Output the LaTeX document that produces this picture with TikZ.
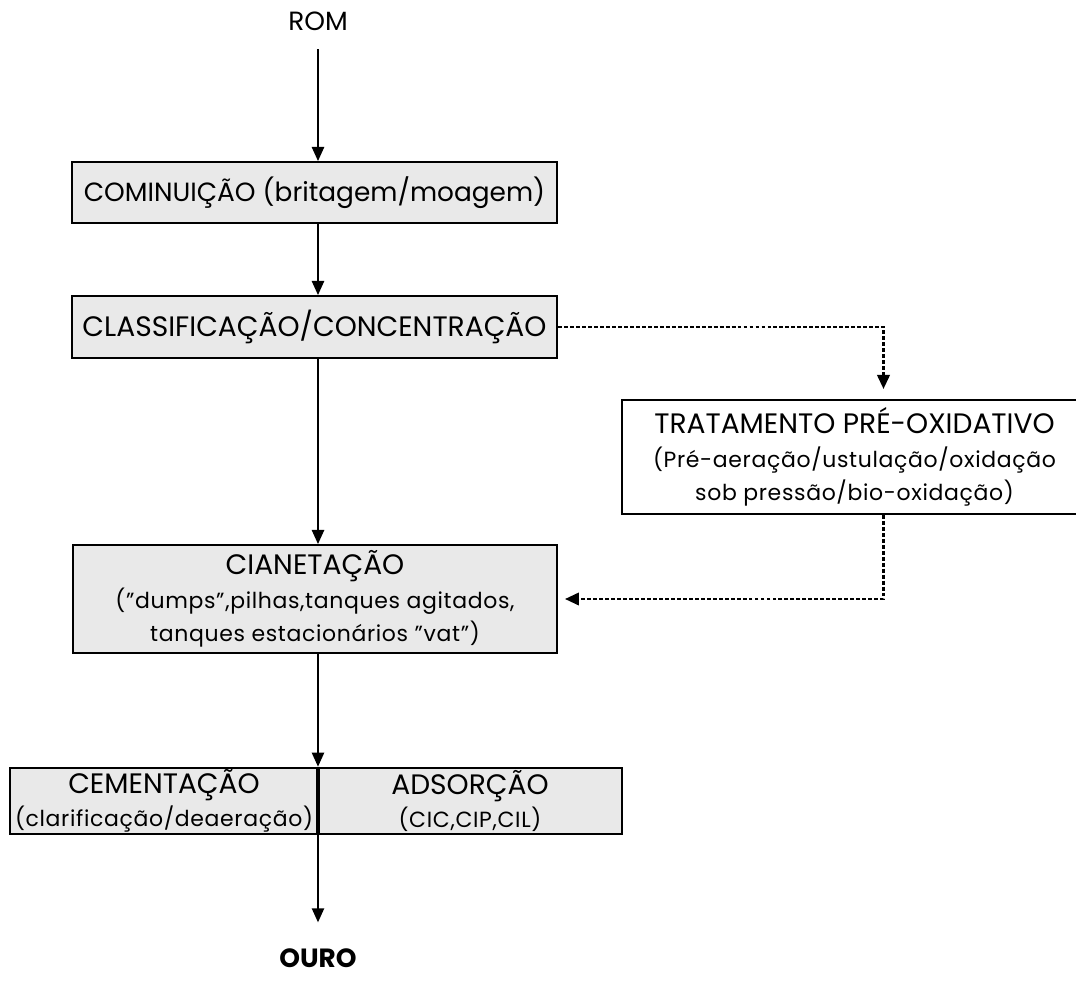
\documentclass[tikz,border=0pt]{standalone}
\usepackage{fontspec}
\setmainfont{Poppins}
\usetikzlibrary{arrows.meta}
\tikzset{
    box/.style={draw, line width=1.1pt, align=center, inner sep=1pt,
        font=\fontsize{16}{19}\selectfont},
    stage/.style={box, fill=gray!17},
    pretreat/.style={box, fill=white},
    endpoint/.style={font=\fontsize{15}{18}\selectfont},
    link/.style={-{Triangle[length=8pt,width=7pt]}, line width=0.9pt},
    bypass/.style={link, dash pattern=on 2.2pt off 1.2pt, line width=1.6pt}
}
\newcommand{\subsize}{\fontsize{12.5}{17}\selectfont\addfontfeature{LetterSpace=3}}

\begin{document}
\begin{tikzpicture}[x=0.02cm, y=-0.02cm]
    \useasboundingbox (0,0) rectangle (1076,994);
    \node[endpoint] (rom) at (318,21) {ROM};
    \node[stage, minimum width=9.72cm, minimum height=1.22cm, font=\fontsize{15}{18}\selectfont] (cominuicao) at (314.5,192.5) {COMINUIÇÃO (britagem/moagem)};
    \node[stage, minimum width=9.72cm, minimum height=1.24cm] (classif) at (314.5,327) {CLASSIFICAÇÃO/CONCENTRAÇÃO};
    \node[pretreat, minimum width=9.3cm, minimum height=2.28cm] (preox) at (854.5,457) {TRATAMENTO PRÉ-OXIDATIVO\\\subsize (Pré-aeração/ustulação/oxidação\\\subsize sob pressão/bio-oxidação)};
    \node[stage, minimum width=9.68cm, minimum height=2.16cm] (cianet) at (315,599) {CIANETAÇÃO\\\subsize ("dumps",pilhas,tanques agitados,\\\subsize tanques estacionários "vat")};
    \node[stage, minimum width=6.16cm, minimum height=1.32cm] (cement) at (164,801) {CEMENTAÇÃO\\\subsize (clarificação/deaeração)};
    \node[stage, minimum width=6.08cm, minimum height=1.32cm] (adsorcao) at (470,801) {ADSORÇÃO\\\subsize (CIC,CIP,CIL)};
    \node[endpoint, font=\fontsize{15}{18}\selectfont\bfseries] (ouro) at (318,958) {OURO};
    % thick split between the two recovery routes
    \draw[line width=2.2pt] (rom |- cement.north) -- (rom |- cement.south);
    \draw[link, shorten <=0.25cm] (rom.south) -- (rom.south |- cominuicao.north);
    \draw[link] (cominuicao.south -| rom) -- (classif.north -| rom);
    \draw[link] (classif.south -| rom) -- (cianet.north -| rom);
    \draw[link] (cianet.south -| rom) -- (cement.north -| rom);
    \draw[link, shorten >=0.4cm] (cement.south -| rom) -- (ouro.north);
    % refractory ore route
    \draw[bypass, shorten >=0.2cm] (classif.east) -| ([xshift=0.58cm]preox.north);
    \draw[bypass, shorten >=0.14cm] ([xshift=0.58cm]preox.south) |- (cianet.east);
\end{tikzpicture}
\end{document}
